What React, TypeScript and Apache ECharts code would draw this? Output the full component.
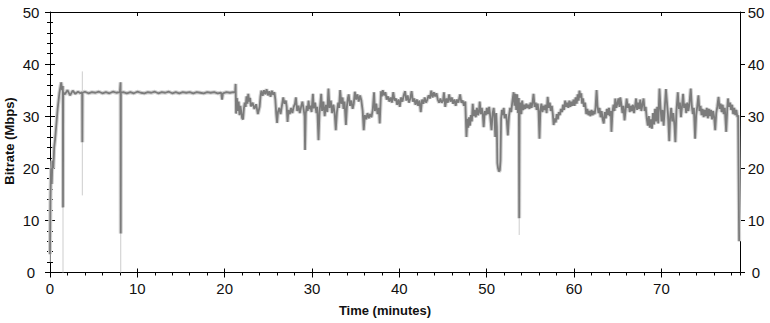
import React, { useEffect, useRef } from "react";
import * as echarts from "echarts";

// Bitrate samples [minute, Mbps]
const rampUp: [number, number][] = [
  [0, 3.5], [0.05, 14], [0.12, 20], [0.2, 17], [0.28, 21.5], [0.38, 20], [0.48, 24],
  [0.58, 25.5], [0.68, 27.5], [0.78, 29.5], [0.88, 31.5], [0.98, 33], [1.08, 34.5],
  [1.18, 35.5], [1.28, 36.5], [1.38, 35],
];

const steadyPhase: [number, number][] = [
  [1.47, 35.8], [1.49, 12.5], [1.51, 34.6], [1.7, 34.2], [2.0, 35.0], [2.3, 34.0], [2.6, 34.9],
  [2.9, 34.3], [3.2, 34.7], [3.5, 34.4], [3.68, 34.6], [3.7, 25], [3.72, 34.5], [4.0, 34.7],
  [4.4, 34.4], [4.8, 34.6], [5.2, 34.5], [5.6, 34.7], [6.0, 34.4], [6.4, 34.6], [6.8, 34.4],
  [7.2, 34.7], [7.6, 34.5], [8.0, 34.6], [8.08, 36.5], [8.1, 7.5], [8.12, 34.5], [8.4, 34.6],
  [8.8, 34.4], [9.2, 34.6], [9.6, 34.4], [10.0, 34.7], [10.4, 34.5], [10.8, 34.4], [11.2, 34.6],
  [11.6, 34.5], [12.0, 34.7], [12.4, 34.4], [12.8, 34.6], [13.2, 34.5], [13.6, 34.7], [14.0, 34.4],
  [14.4, 34.6], [14.8, 34.4], [15.2, 34.6], [15.6, 34.5], [16.0, 34.6], [16.4, 34.4], [16.8, 34.6],
  [17.2, 34.5], [17.6, 34.4], [18.0, 34.6], [18.4, 34.5], [18.8, 34.6], [19.2, 34.4], [19.6, 34.5],
  [19.7, 33.2], [19.8, 34.4], [20.2, 34.6], [20.6, 34.5], [21.0, 34.6], [21.2, 34.6],
];

const variablePhaseA: [number, number][] = [
  [21.25, 36.2], [21.3, 30.5], [21.4, 33.5], [21.5, 31.0], [21.6, 32.8], [21.7, 30.2], [21.8, 32.0],
  [21.9, 30.8], [22.0, 29.6], [22.1, 29.4], [22.2, 31.5], [22.3, 32.6], [22.4, 31.8], [22.5, 33.8],
  [22.6, 32.4], [22.7, 34.3], [22.8, 32.8], [22.9, 33.5], [23.0, 31.9], [23.2, 32.6], [23.4, 31.4],
  [23.6, 32.3], [23.8, 30.4], [24.0, 31.8], [24.1, 33.8], [24.2, 34.9], [24.35, 33.9], [24.5, 35.0],
  [24.65, 34.2], [24.8, 35.2], [24.95, 34.0], [25.1, 34.8], [25.25, 33.7], [25.4, 34.9], [25.55, 34.1],
  [25.7, 34.6], [25.8, 33.2], [25.9, 30.5], [26.0, 28.7], [26.1, 30.8], [26.25, 31.6], [26.4, 30.4],
  [26.55, 32.0], [26.7, 33.6], [26.85, 32.4], [27.0, 33.0], [27.1, 31.8], [27.2, 28.9], [27.3, 31.2],
  [27.45, 30.4], [27.6, 31.6], [27.75, 30.6], [27.9, 31.8], [28.05, 32.4], [28.15, 33.6], [28.3, 31.0],
  [28.45, 32.0], [28.6, 30.6], [28.75, 31.8], [28.9, 32.8], [29.05, 31.2], [29.15, 30.0], [29.2, 23.5],
  [29.28, 30.5], [29.4, 32.0], [29.5, 31.0], [29.6, 33.0], [29.7, 31.4], [29.8, 32.0], [29.95, 30.8],
  [30.1, 34.3], [30.2, 31.5], [30.35, 32.6], [30.5, 30.6], [30.6, 31.8], [30.74, 25.4], [30.85, 30.5],
  [30.95, 32.4], [31.05, 34.3], [31.15, 31.0], [31.3, 32.8], [31.45, 30.0], [31.6, 32.2], [31.75, 30.8],
  [31.88, 35.3], [32.0, 31.6], [32.15, 33.0], [32.3, 30.6], [32.45, 32.2], [32.6, 30.4], [32.72, 27.3],
  [32.85, 30.8], [33.0, 32.6], [33.1, 31.6], [33.22, 35.0], [33.35, 32.4], [33.5, 33.6], [33.6, 31.4],
  [33.72, 32.8], [33.88, 28.3], [34.0, 32.0], [34.1, 33.4], [34.2, 34.2], [34.35, 32.0], [34.5, 33.0],
  [34.65, 31.4], [34.78, 32.4], [34.9, 34.7], [35.05, 33.2], [35.2, 34.2], [35.35, 32.8], [35.5, 34.0],
  [35.65, 33.0], [35.8, 31.0], [35.92, 27.3], [36.05, 30.2], [36.2, 29.4], [36.35, 30.6], [36.5, 29.6],
  [36.65, 30.4], [36.8, 29.8], [36.95, 31.2], [37.1, 34.6], [37.2, 31.0], [37.35, 32.4], [37.5, 30.4],
  [37.65, 31.6], [37.75, 28.6], [37.9, 34.8], [38.0, 33.8], [38.1, 35.0], [38.25, 34.0], [38.4, 34.6],
  [38.55, 33.2], [38.7, 33.8], [38.85, 32.8], [39.0, 33.6], [39.15, 32.6], [39.3, 34.6], [39.45, 33.0],
  [39.6, 33.4], [39.75, 32.2], [39.9, 33.2], [40.05, 31.8], [40.2, 33.6], [40.35, 32.8], [40.5, 34.0],
  [40.65, 34.8], [40.8, 33.0], [40.95, 34.0], [41.1, 32.6], [41.25, 33.4], [41.4, 34.8], [41.55, 32.8],
  [41.7, 33.4], [41.85, 32.2], [42.0, 33.2], [42.15, 32.0], [42.3, 33.0], [42.45, 30.8], [42.6, 33.2],
  [42.75, 32.4], [42.9, 33.6], [43.05, 32.6], [43.2, 33.2], [43.35, 34.0], [43.5, 33.4], [43.65, 34.9],
  [43.8, 33.6], [43.95, 34.6], [44.1, 33.8], [44.25, 34.4], [44.4, 33.2], [44.55, 32.6], [44.7, 33.4],
  [44.85, 32.6], [45.0, 33.0], [45.1, 34.6], [45.25, 31.8], [45.4, 33.4], [45.55, 32.6], [45.7, 34.2],
  [45.85, 32.8], [46.0, 33.6], [46.15, 32.4], [46.3, 33.2], [46.45, 32.0], [46.6, 33.2], [46.75, 32.6],
  [46.95, 34.2], [47.1, 32.6], [47.25, 33.0], [47.4, 32.0], [47.55, 32.8],
];

const variablePhaseB: [number, number][] = [
  [47.68, 26.0], [47.78, 29.5], [47.88, 27.8], [47.98, 29.8], [48.08, 28.2], [48.2, 30.2], [48.3, 29.0],
  [48.4, 32.4], [48.5, 30.0], [48.62, 31.2], [48.75, 29.8], [48.88, 31.6], [49.0, 30.2], [49.12, 31.0],
  [49.2, 32.8], [49.32, 30.4], [49.44, 31.6], [49.56, 30.2], [49.65, 27.9], [49.78, 31.0], [49.9, 30.2],
  [50.02, 31.6], [50.15, 30.4], [50.28, 31.8], [50.4, 30.0], [50.55, 27.3], [50.68, 30.6], [50.8, 31.6],
  [50.9, 29.6], [50.98, 26.0], [51.08, 30.6], [51.16, 28.0], [51.22, 21.0], [51.3, 20.0], [51.4, 19.4],
  [51.5, 19.6], [51.58, 21.5], [51.65, 29.6], [51.75, 31.2], [51.85, 30.2], [51.95, 31.6], [52.05, 29.6],
  [52.2, 30.4], [52.3, 29.2], [52.42, 26.3], [52.55, 30.0], [52.68, 31.6], [52.8, 30.8], [52.95, 33.0],
  [53.08, 34.6], [53.18, 32.0], [53.28, 34.3], [53.38, 31.2], [53.48, 34.2], [53.58, 30.6], [53.68, 33.5],
  [53.72, 10.4], [53.76, 31.0], [53.86, 32.6], [53.96, 30.4], [54.06, 33.0], [54.18, 31.2], [54.3, 32.2],
  [54.42, 31.4], [54.54, 32.4], [54.66, 31.6], [54.78, 32.2], [54.9, 31.4], [55.02, 32.6], [55.14, 31.6],
  [55.26, 32.8], [55.36, 34.3], [55.48, 31.8], [55.6, 32.6], [55.72, 31.2], [55.84, 32.4], [55.94, 30.8],
  [56.04, 25.7], [56.14, 31.0], [56.26, 32.4], [56.38, 30.8], [56.5, 32.0], [56.62, 31.2], [56.74, 32.2],
  [56.86, 30.6], [56.98, 33.7], [57.1, 31.6], [57.22, 32.6], [57.34, 31.0], [57.46, 32.0], [57.58, 30.2],
  [57.66, 28.3], [57.78, 29.6], [57.9, 28.8], [58.02, 30.4], [58.14, 29.4], [58.26, 30.8], [58.38, 30.2],
  [58.5, 31.4], [58.62, 30.8], [58.74, 32.2], [58.86, 31.2], [58.98, 33.0], [59.1, 31.8], [59.22, 32.6],
  [59.34, 31.6], [59.46, 33.0], [59.58, 31.8], [59.7, 32.8], [59.82, 32.0], [59.94, 33.2], [60.06, 32.0],
  [60.18, 33.6], [60.3, 32.4], [60.42, 34.2], [60.52, 33.0], [60.62, 34.9], [60.72, 33.6], [60.82, 34.4],
  [60.92, 32.4], [61.02, 33.4], [61.14, 31.8], [61.26, 32.6], [61.4, 30.4], [61.52, 31.4], [61.64, 30.2],
  [61.76, 31.0], [61.88, 30.0], [62.0, 31.2], [62.12, 30.2], [62.24, 31.0], [62.36, 30.4], [62.46, 31.6],
  [62.58, 35.0], [62.68, 32.0], [62.8, 30.6], [62.92, 31.6], [63.04, 29.8], [63.16, 31.0], [63.28, 29.4],
  [63.4, 28.6], [63.52, 30.8], [63.64, 29.6], [63.76, 31.4], [63.88, 30.2], [64.0, 31.6], [64.12, 30.0],
  [64.22, 31.0], [64.28, 27.0], [64.4, 30.8], [64.52, 32.2], [64.64, 31.0], [64.72, 33.4], [64.84, 31.6],
  [64.96, 32.4], [65.08, 33.4], [65.2, 31.8], [65.3, 33.6], [65.42, 32.2], [65.54, 30.6], [65.66, 32.0],
  [65.78, 29.2], [65.9, 31.2], [66.02, 33.4], [66.14, 31.6], [66.26, 32.4], [66.38, 30.8], [66.5, 32.0],
  [66.62, 31.0], [66.74, 32.2], [66.86, 30.6], [66.98, 31.8], [67.1, 33.4], [67.22, 31.2], [67.34, 32.6],
  [67.46, 31.4], [67.58, 33.2], [67.7, 31.0], [67.82, 32.2], [67.96, 33.4], [68.08, 31.0], [68.2, 31.8],
  [68.32, 29.6], [68.44, 28.2], [68.56, 30.0], [68.68, 27.8], [68.8, 29.4], [68.92, 27.6], [69.04, 30.6],
  [69.16, 28.4], [69.28, 31.4], [69.4, 29.0], [69.52, 31.8], [69.64, 28.6], [69.78, 35.3], [69.9, 31.6],
  [70.02, 29.0], [70.14, 31.2], [70.26, 28.2], [70.38, 31.4], [70.52, 35.2], [70.62, 33.0], [70.76, 30.2],
  [70.9, 25.2], [71.0, 29.8], [71.12, 31.6], [71.24, 29.0], [71.36, 30.6], [71.5, 28.2], [71.6, 25.0],
  [71.72, 31.0], [71.88, 34.6], [72.0, 31.4], [72.12, 32.6], [72.24, 29.8], [72.36, 31.8], [72.48, 34.3],
  [72.6, 31.6], [72.72, 32.4], [72.84, 30.6], [72.96, 32.6], [73.08, 31.0], [73.2, 32.2], [73.36, 35.3],
  [73.48, 32.0], [73.6, 30.4], [73.72, 31.6], [73.86, 25.7], [73.98, 30.2], [74.1, 31.8], [74.24, 34.0],
  [74.36, 31.0], [74.48, 32.0], [74.6, 30.2], [74.72, 31.4], [74.84, 29.8], [74.96, 31.2], [75.08, 30.0],
  [75.2, 31.6], [75.32, 29.6], [75.44, 31.4], [75.56, 30.0], [75.68, 31.2], [75.8, 29.4], [75.92, 31.0],
  [76.04, 29.8], [76.16, 27.3], [76.28, 30.6], [76.4, 31.8], [76.54, 33.7], [76.66, 31.4], [76.78, 32.4],
  [76.9, 30.8], [77.02, 32.2], [77.14, 30.4], [77.26, 31.6], [77.42, 27.0], [77.54, 31.4], [77.62, 33.4],
  [77.74, 31.8], [77.86, 32.6], [77.98, 31.2], [78.1, 32.2], [78.22, 30.4], [78.34, 31.6], [78.46, 30.2],
  [78.58, 31.2], [78.7, 29.8], [78.78, 30.2], [78.9, 6.0],
];

// light-grey min/max envelope excursions [minute, low, high]
const lightSpikes: [number, number, number][] = [
  [0.02, 2, 16],
  [1.49, 0, 12.5],
  [3.7, 14.8, 25],
  [3.7, 34.6, 38.6],
  [8.1, 0, 7.5],
  [53.72, 7.2, 10.4],
];

const X_MAX = 79;
const Y_MAX = 50;
const MAJOR_X = 10;
const MINOR_X = 2;
const MAJOR_Y = 10;
const MINOR_Y = 2;
const X_TITLE = "Time (minutes)";
const Y_TITLE = "Bitrate (Mbps)";

const LABEL_FONT = "'Liberation Sans Narrow', 'Arial Narrow', 'Liberation Sans', Arial, sans-serif";
const TITLE_FONT = "bold 13px 'Liberation Sans', Arial, sans-serif";

export default function App() {
  const ref = useRef<HTMLDivElement>(null);
  useEffect(() => {
    document.body.style.margin = "0";
    const chart = echarts.init(ref.current!, null, { renderer: "svg" });
    const series = [...rampUp, ...steadyPhase, ...variablePhaseA, ...variablePhaseB];
    const spikeData: any[] = [];
    lightSpikes.forEach(([t, lo, hi]) => {
      spikeData.push([t, lo], [t, hi], [t, "-"]);
    });
    const black = "#000";
    const labelStyle = { fontSize: 15, fontFamily: LABEL_FONT, color: "#111" };
    const xBase = { type: "value", min: 0, max: X_MAX, splitLine: { show: false } };
    const yBase = { type: "value", min: 0, max: Y_MAX, splitLine: { show: false } };
    const hidden = { show: false };
    const option: any = {
      animation: false,
      backgroundColor: "#fff",
      grid: { left: 50, right: 30, top: 12, bottom: 50.5, containLabel: false },
      xAxis: [
        { ...xBase, position: "bottom", interval: MAJOR_X, axisLine: { show: true, onZero: false, lineStyle: { color: black } },
          axisTick: { show: true, inside: false, length: 5, lineStyle: { color: black } },
          axisLabel: { ...labelStyle, margin: 8, showMaxLabel: false } },
        { ...xBase, position: "bottom", interval: MAJOR_X, axisLine: hidden,
          axisTick: { show: true, inside: true, length: 4, lineStyle: { color: black } }, axisLabel: hidden },
        { ...xBase, position: "bottom", interval: MINOR_X, axisLine: hidden,
          axisTick: { show: true, inside: false, length: 3, lineStyle: { color: black } }, axisLabel: hidden },
        { ...xBase, position: "top", interval: MAJOR_X, axisLine: { show: true, onZero: false, lineStyle: { color: black } },
          axisTick: { show: true, inside: true, length: 4, lineStyle: { color: black } }, axisLabel: hidden },
        { ...xBase, position: "top", interval: MINOR_X, axisLine: hidden,
          axisTick: { show: true, inside: true, length: 2, lineStyle: { color: black } }, axisLabel: hidden },
      ],
      yAxis: [
        { ...yBase, position: "left", interval: MAJOR_Y, axisLine: { show: true, onZero: false, lineStyle: { color: black } },
          axisTick: { show: true, inside: false, length: 5, lineStyle: { color: black } },
          axisLabel: { ...labelStyle, margin: 19, align: "center" } },
        { ...yBase, position: "left", interval: MAJOR_Y, axisLine: hidden,
          axisTick: { show: true, inside: true, length: 5, lineStyle: { color: black } }, axisLabel: hidden },
        { ...yBase, position: "left", interval: MINOR_Y, axisLine: hidden,
          axisTick: { show: true, inside: false, length: 3, lineStyle: { color: black } }, axisLabel: hidden },
        { ...yBase, position: "right", interval: MAJOR_Y, axisLine: { show: true, onZero: false, lineStyle: { color: black } },
          axisTick: { show: true, inside: false, length: 5, lineStyle: { color: black } },
          axisLabel: { ...labelStyle, margin: 16, align: "center" } },
        { ...yBase, position: "right", interval: MAJOR_Y, axisLine: hidden,
          axisTick: { show: true, inside: true, length: 5, lineStyle: { color: black } }, axisLabel: hidden },
        { ...yBase, position: "right", interval: MINOR_Y, axisLine: hidden,
          axisTick: { show: true, inside: false, length: 3, lineStyle: { color: black } }, axisLabel: hidden },
      ],
      series: [
        { type: "line", name: "envelope", data: spikeData, xAxisIndex: 0, yAxisIndex: 0, showSymbol: false,
          connectNulls: false, lineStyle: { color: "#cdcdcd", width: 1 }, z: 1, silent: true },
        { type: "line", name: "halo", data: series, xAxisIndex: 0, yAxisIndex: 0, showSymbol: false,
          lineStyle: { color: "#d2d2d2", width: 4, join: "bevel" }, z: 2, silent: true },
        { type: "line", name: "Bitrate", data: series, xAxisIndex: 0, yAxisIndex: 0, showSymbol: false,
          lineStyle: { color: "#7b7b7b", width: 1.8, join: "bevel" }, z: 3, silent: true },
      ],
      graphic: [
        { type: "text", left: "center", x: 0, top: 304, style: { text: X_TITLE, font: TITLE_FONT, fill: "#111" } },
        { type: "text", x: 9, y: 141, rotation: Math.PI / 2,
          style: { text: Y_TITLE, font: TITLE_FONT, fill: "#111", textAlign: "center", textVerticalAlign: "middle" } },
      ],
    };
    chart.setOption(option);
    return () => chart.dispose();
  }, []);
  return <div ref={ref} style={{ width: 770, height: 323 }} />;
}
